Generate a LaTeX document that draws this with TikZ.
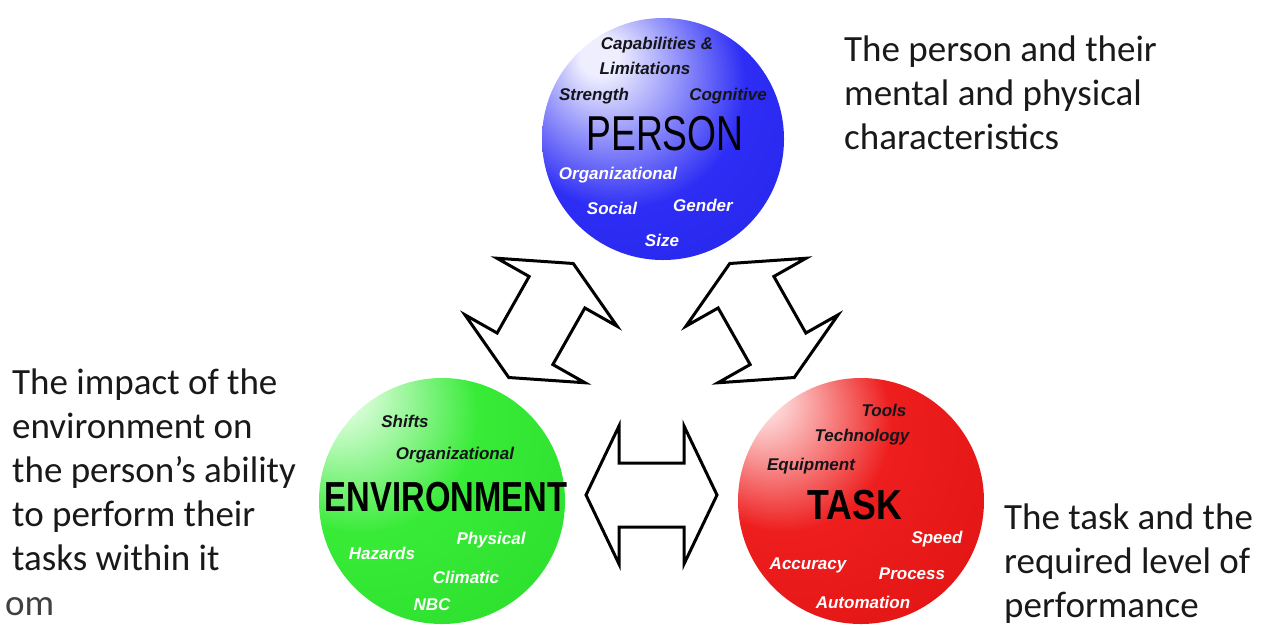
\documentclass[tikz,border=0pt]{standalone}
\usepackage{fontspec}
\setmainfont{Carlito}
\newfontfamily\wordfont{Liberation Sans}
\usetikzlibrary{positioning}

\definecolor{personhi}{RGB}{238,238,255}
\definecolor{personmid}{RGB}{45,45,245}
\definecolor{personrim}{RGB}{25,25,215}
\definecolor{envhi}{RGB}{235,255,235}
\definecolor{envmid}{RGB}{55,235,55}
\definecolor{envrim}{RGB}{30,205,30}
\definecolor{taskhi}{RGB}{255,228,228}
\definecolor{taskmid}{RGB}{238,30,30}
\definecolor{taskrim}{RGB}{210,5,5}
\definecolor{wordink}{RGB}{20,20,25}

\pgfdeclareradialshading{personshade}{\pgfpoint{-14bp}{18bp}}{color(0bp)=(personhi); color(4bp)=(personhi); color(26bp)=(personmid); color(72bp)=(personrim)}
\pgfdeclareradialshading{envshade}{\pgfpoint{-24bp}{25bp}}{color(0bp)=(envhi); color(4bp)=(envhi); color(24bp)=(envmid); color(78bp)=(envrim)}
\pgfdeclareradialshading{taskshade}{\pgfpoint{-22bp}{22bp}}{color(0bp)=(taskhi); color(3bp)=(taskhi); color(22bp)=(taskmid); color(78bp)=(taskrim)}

% outline of a double block arrow, centred on the origin
\newcommand{\dblarrowpath}{(-65.5,0) -- (-32.5,-69) -- (-32.5,-32) -- (32.5,-32) -- (32.5,-69) -- (65.5,0) -- (32.5,69) -- (32.5,32) -- (-32.5,32) -- (-32.5,69) -- cycle}

\begin{document}
\begin{tikzpicture}[x=1pt,y=-1pt,
sphere/.style={circle,minimum size=246pt,inner sep=0pt},
word/.style={font=\wordfont\bfseries\itshape\fontsize{17}{20}\selectfont,inner sep=0pt},
dark/.style={word,text=wordink},
light/.style={word,text=white},
bigword/.style={font=\wordfont\bfseries\fontsize{42}{44}\selectfont,inner sep=0pt,text=black},
blockarrow/.style={draw=black,fill=white,line width=3pt,line join=miter},
caption/.style={font=\fontsize{37}{44}\selectfont,align=left,anchor=north west,inner sep=0pt,text=black!90}
]
\useasboundingbox (0,0) rectangle (1261,625);

% spheres
\node[sphere,shading=personshade,minimum size=242pt] (person) at (663,139) {};
\node[sphere,shading=envshade] (env) at (442,501) {};
\node[sphere,shading=taskshade] (task) at (861,501) {};

% arrows between the spheres
\draw[blockarrow,shift={(541,320.5)},rotate=60.5] \dblarrowpath;
\draw[blockarrow,shift={(762,320.5)},rotate=-60.5] \dblarrowpath;
\draw[blockarrow,shift={(651.5,495)}] \dblarrowpath;

% person
\node[dark] (cap) at (657,45) {Capabilities \&};
\node[dark] (lim) at (645,68) {Limitations};
\node[dark] (str) at (594,96) {Strength};
\node[dark] (cog) at (728,96) {Cognitive};
\node[bigword,font=\wordfont\fontsize{49}{50}\selectfont,xscale=0.76] (personlabel) at (665,134) {PERSON};
\node[light] (porg) at (618,175) {Organizational};
\node[light] (soc) at (612,208) {Social};
\node[light] (gen) at (703,205) {Gender};
\node[light] (size) at (662,240) {Size};

% environment
\node[dark] (shf) at (405,421) {Shifts};
\node[dark] (eorg) at (455,455) {Organizational};
\node[bigword,xscale=0.78] (envlabel) at (446,497) {ENVIRONMENT};
\node[light] (phy) at (491,540) {Physical};
\node[light] (haz) at (382,553) {Hazards};
\node[light] (cli) at (466,577) {Climatic};
\node[light] (nbc) at (432,605) {NBC};

% task
\node[dark] (tool) at (884,410) {Tools};
\node[dark] (tech) at (862,437) {Technology};
\node[dark] (equ) at (811,466) {Equipment};
\node[bigword,xscale=0.85] (tasklabel) at (855,505) {TASK};
\node[light] (spd) at (937,539) {Speed};
\node[light] (acc) at (808,565) {Accuracy};
\node[light] (pro) at (912,574) {Process};
\node[light] (aut) at (863,602) {Automation};

% captions
\node[caption] (personcap) at (844,36) {The person and their\\mental and physical\\characteristics};
\node[caption] (envcap) at (12,369) {The impact of the\\environment on\\the person’s ability\\to perform their\\tasks within it};
\node[caption] (taskcap) at (1004,504) {The task and the\\required level of\\performance};
\node[caption,anchor=base west,text=black!75] (cut) at (5,615) {om};
\end{tikzpicture}
\end{document}
